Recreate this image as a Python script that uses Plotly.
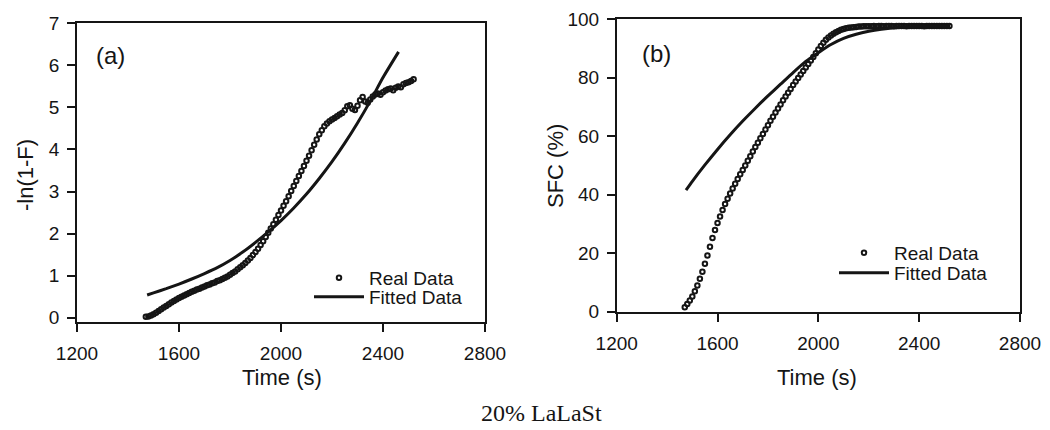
import plotly.graph_objects as go

# Sampling times of the measured curves (s)
time_s = [
    1470, 1480, 1490, 1500, 1510, 1520, 1530, 1540, 1550, 1560,
    1570, 1580, 1590, 1600, 1610, 1620, 1630, 1640, 1650, 1660,
    1670, 1680, 1690, 1700, 1710, 1720, 1730, 1740, 1750, 1760,
    1770, 1780, 1790, 1800, 1810, 1820, 1830, 1840, 1850, 1860,
    1870, 1880, 1890, 1900, 1910, 1920, 1930, 1940, 1950, 1960,
    1970, 1980, 1990, 2000, 2010, 2020, 2030, 2040, 2050, 2060,
    2070, 2080, 2090, 2100, 2110, 2120, 2130, 2140, 2150, 2160,
    2170, 2180, 2190, 2200, 2210, 2220, 2230, 2240, 2250, 2260,
    2270, 2280, 2290, 2300, 2310, 2320, 2330, 2340, 2350, 2360,
    2370, 2380, 2390, 2400, 2410, 2420, 2430, 2440, 2450, 2460,
    2470, 2480, 2490, 2500, 2510, 2520,
]

# (a) measured -ln(1-F)
ln_real = [
    0.02, 0.03, 0.05, 0.08, 0.12, 0.16, 0.20, 0.24, 0.28, 0.32,
    0.36, 0.40, 0.43, 0.47, 0.50, 0.53, 0.56, 0.59, 0.62, 0.64,
    0.67, 0.69, 0.72, 0.74, 0.77, 0.79, 0.82, 0.84, 0.87, 0.89,
    0.92, 0.95, 0.98, 1.02, 1.06, 1.10, 1.15, 1.20, 1.25, 1.30,
    1.36, 1.42, 1.49, 1.56, 1.64, 1.73, 1.82, 1.92, 2.02, 2.12,
    2.22, 2.33, 2.44, 2.55, 2.66, 2.77, 2.89, 3.01, 3.13, 3.25,
    3.37, 3.49, 3.61, 3.73, 3.85, 3.98, 4.11, 4.24, 4.36, 4.46,
    4.55, 4.62, 4.67, 4.71, 4.75, 4.79, 4.83, 4.87, 4.93, 5.03,
    5.05, 4.97, 4.94, 5.04, 5.17, 5.25, 5.14, 5.11, 5.19, 5.26,
    5.31, 5.33, 5.30, 5.36, 5.40, 5.43, 5.45, 5.41, 5.47, 5.50,
    5.48, 5.55, 5.58, 5.60, 5.63, 5.67,
]

# (a) fitted -ln(1-F)
fit_a_time = [1475, 1500, 1550, 1600, 1650, 1700, 1750, 1800, 1850, 1900, 1950,
              2000, 2050, 2100, 2150, 2200, 2250, 2300, 2350, 2400, 2461]
fit_a = [0.54, 0.59, 0.69, 0.80, 0.92, 1.05, 1.19, 1.36, 1.56, 1.79, 2.04,
         2.31, 2.61, 2.94, 3.31, 3.71, 4.15, 4.63, 5.15, 5.71, 6.32]

# (b) measured solid fat content (%)
sfc_real = [
    1.5, 2.6, 3.8, 5.2, 7.0, 9.0, 11.3, 13.7, 16.4, 19.2,
    22.2, 25.2, 27.9, 30.3, 32.6, 34.8, 36.8, 38.6, 40.4, 42.1,
    43.8, 45.4, 47.0, 48.5, 50.0, 51.6, 53.2, 54.8, 56.3, 57.8,
    59.3, 60.8, 62.3, 63.8, 65.3, 66.7, 68.1, 69.5, 70.9, 72.3,
    73.6, 74.9, 76.2, 77.5, 78.7, 79.9, 81.1, 82.3, 83.5, 84.7,
    85.9, 87.1, 88.4, 89.7, 90.9, 92.0, 93.0, 93.8, 94.5, 95.1,
    95.6, 96.0, 96.4, 96.7, 96.9, 97.1, 97.2, 97.3, 97.4, 97.5,
    97.5, 97.6, 97.6, 97.6, 97.6, 97.7, 97.6, 97.7, 97.7, 97.6,
    97.7, 97.7, 97.7, 97.6, 97.7, 97.7, 97.7, 97.7, 97.6, 97.7,
    97.7, 97.7, 97.7, 97.7, 97.7, 97.6, 97.7, 97.7, 97.7, 97.7,
    97.7, 97.7, 97.7, 97.7, 97.7, 97.7,
]

# (b) fitted solid fat content (%)
fit_b_time = [1475, 1500, 1550, 1600, 1650, 1700, 1750, 1800, 1850, 1900, 1950,
              2000, 2050, 2100, 2150, 2200, 2250, 2300, 2350, 2400, 2450, 2520]
fit_b = [41.6, 44.6, 50.2, 55.5, 60.5, 65.2, 69.6, 73.8, 77.8, 81.8, 85.6,
         88.6, 91.4, 93.5, 94.9, 95.9, 96.6, 97.1, 97.4, 97.6, 97.7, 97.7]

x_ticks = [1200, 1600, 2000, 2400, 2800]
a_ticks = [0, 1, 2, 3, 4, 5, 6, 7]
b_ticks = [0, 20, 40, 60, 80, 100]

INK = "#151515"
W, H = 1050, 430
SANS = "Liberation Sans, Arial, sans-serif"


def px(x):
    return x / W


def py(y):
    return 1 - y / H


marker_style = dict(symbol="circle-open", size=4.5, color=INK, line=dict(width=2, color=INK))
fit_style = dict(color=INK, width=3, shape="spline", smoothing=0.6)

fig = go.Figure()
fig.add_trace(go.Scatter(x=time_s, y=ln_real, mode="markers", marker=marker_style,
                         name="Real Data", legend="legend", xaxis="x", yaxis="y"))
fig.add_trace(go.Scatter(x=fit_a_time, y=fit_a, mode="lines", line=fit_style,
                         name="Fitted Data", legend="legend2", xaxis="x", yaxis="y"))
fig.add_trace(go.Scatter(x=time_s, y=sfc_real, mode="markers", marker=marker_style,
                         name="Real Data", legend="legend3", xaxis="x2", yaxis="y2"))
fig.add_trace(go.Scatter(x=fit_b_time, y=fit_b, mode="lines", line=fit_style,
                         name="Fitted Data", legend="legend4", xaxis="x2", yaxis="y2"))

axis_common = dict(
    showline=True, linecolor=INK, linewidth=1.6, mirror=True,
    ticks="outside", ticklen=8, tickwidth=1.5, tickcolor=INK,
    showgrid=False, zeroline=False, automargin=False,
    tickfont=dict(family=SANS, size=19, color=INK),
)

legend_common = dict(
    bgcolor="rgba(0,0,0,0)", borderwidth=0,
    font=dict(family=SANS, size=19, color=INK),
    xanchor="left", yanchor="top", itemwidth=50,
)

fig.update_layout(
    template="none",
    width=W, height=H,
    margin=dict(l=0, r=0, t=0, b=0, autoexpand=False),
    paper_bgcolor="white", plot_bgcolor="white",
    showlegend=True,
    xaxis=dict(domain=[px(77), px(485)], range=[1200, 2800], tickvals=x_ticks,
               anchor="y", ticklabelstandoff=6, **axis_common),
    yaxis=dict(domain=[py(321.7), py(23.3)], range=[-0.095, 7], tickvals=a_ticks,
               anchor="x", ticklabelstandoff=4, **axis_common),
    xaxis2=dict(domain=[px(616.7), px(1020)], range=[1200, 2800], tickvals=x_ticks,
                anchor="y2", ticklabelstandoff=6, **axis_common),
    yaxis2=dict(domain=[py(311.7), py(19.3)], range=[0, 100], tickvals=b_ticks,
                anchor="x2", ticklabelstandoff=4, **axis_common),
    legend=dict(x=px(309), y=py(259), **legend_common),
    legend2=dict(x=px(309), y=py(278), **legend_common),
    legend3=dict(x=px(834), y=py(234), **legend_common),
    legend4=dict(x=px(834), y=py(254), **legend_common),
)

title_font = dict(family=SANS, size=22, color=INK)
annotations = [
    dict(text="Time (s)", x=px(282), y=py(377), font=title_font),
    dict(text="Time (s)", x=px(817), y=py(377), font=title_font),
    dict(text="-ln(1-F)", x=px(25), y=py(175), font=title_font, textangle=-90),
    dict(text="SFC (%)", x=px(555), y=py(166), font=title_font, textangle=-90),
    dict(text="(a)", x=px(110), y=py(55), font=dict(family=SANS, size=24, color=INK)),
    dict(text="(b)", x=px(656), y=py(53), font=dict(family=SANS, size=24, color=INK)),
    dict(text="20% LaLaSt", x=px(541), y=py(413),
         font=dict(family="Liberation Serif, Times New Roman, serif", size=24, color=INK)),
]
for a in annotations:
    fig.add_annotation(xref="paper", yref="paper", showarrow=False,
                       xanchor="center", yanchor="middle", **a)

fig.write_html("out.html")
